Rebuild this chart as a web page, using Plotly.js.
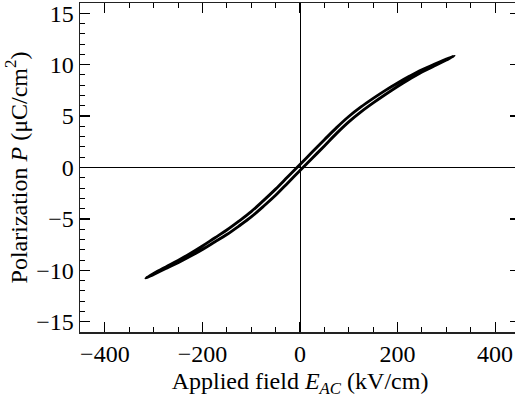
<!DOCTYPE html>
<html>
<head>
<meta charset="utf-8">
<script src="https://cdn.plot.ly/plotly-3.0.1.min.js"></script>
<style>
html,body{margin:0;padding:0;overflow:hidden;background:#fff;}
#chart{width:521px;height:399px;}
</style>
</head>
<body>
<div id="chart"></div>
<script>
// Upper branch (field decreasing from +Emax to -Emax)
const E_down = [316, 300, 275, 250, 225, 200, 175, 150, 125, 100, 75, 50, 25, 0,
                -25, -50, -75, -100, -125, -150, -175, -200, -225, -250, -275, -300, -316];
const P_down = [10.85, 10.54, 10.03, 9.51, 8.89, 8.22, 7.50, 6.72, 5.89, 4.96, 3.88, 2.70, 1.50, 0.30,
                -0.90, -2.10, -3.22, -4.29, -5.21, -6.08, -6.85, -7.63, -8.36, -9.04, -9.67, -10.31, -10.75];
// Lower branch (field increasing from -Emax to +Emax)
const E_up = [-316, -300, -275, -250, -225, -200, -175, -150, -125, -100, -75, -50, -25, 0,
              25, 50, 75, 100, 125, 150, 175, 200, 225, 250, 275, 300, 316];
const P_up = [-10.75, -10.39, -9.83, -9.26, -8.64, -7.97, -7.25, -6.52, -5.69, -4.81, -3.78, -2.70, -1.50, -0.30,
              0.90, 2.10, 3.32, 4.44, 5.41, 6.28, 7.10, 7.88, 8.61, 9.29, 9.87, 10.46, 10.85];

const xTicks = [-400, -200, 0, 200, 400];
const yTicks = [-15, -10, -5, 0, 5, 10, 15];

const trace = {
  x: E_down.concat(E_up.slice(1)),
  y: P_down.concat(P_up.slice(1)),
  type: 'scatter',
  mode: 'lines',
  line: {color: '#000', width: 2.9, shape: 'spline', smoothing: 1},
  hoverinfo: 'skip'
};

const font = {family: 'Liberation Serif', color: '#000'};

const axisCommon = {
  showgrid: false,
  zeroline: true,
  zerolinecolor: '#000',
  zerolinewidth: 1,
  showline: true,
  linecolor: '#222',
  linewidth: 1.5,
  mirror: 'ticks',
  ticks: 'inside',
  ticklen: 10,
  tickwidth: 1.2,
  tickcolor: '#000',
  tickfont: Object.assign({size: 24}, font)
};

const layout = {
  width: 521,
  height: 399,
  margin: {l: 80, r: 1, t: 3, b: 67},
  paper_bgcolor: '#fff',
  plot_bgcolor: '#fff',
  showlegend: false,
  font: font,
  xaxis: Object.assign({}, axisCommon, {
    range: [-451, 451],
    tickmode: 'array',
    tickvals: xTicks,
    ticktext: xTicks.map(v => v < 0 ? '\u2212' + Math.abs(v) : String(v)),
    minor: {dtick: 50, tick0: 0, ticks: 'inside', ticklen: 5, tickwidth: 1, tickcolor: '#000', showgrid: false},
    title: {text: 'Applied field <i>E</i><sub><i>AC</i></sub> (kV/cm)', font: Object.assign({size: 24}, font), standoff: 6}
  }),
  yaxis: Object.assign({}, axisCommon, {
    range: [-16, 16],
    tickmode: 'array',
    tickvals: yTicks,
    ticktext: yTicks.map(v => v < 0 ? '\u2212' + Math.abs(v) : String(v)),
    minor: {dtick: 1, tick0: 0, ticks: 'inside', ticklen: 5, tickwidth: 1, tickcolor: '#000', showgrid: false},
    title: {text: 'Polarization <i>P</i> (μC/cm<sup>2</sup>)', font: Object.assign({size: 24}, font), standoff: 2}
  })
};

Plotly.newPlot('chart', [trace], layout, {displayModeBar: false, staticPlot: true});
</script>
</body>
</html>
